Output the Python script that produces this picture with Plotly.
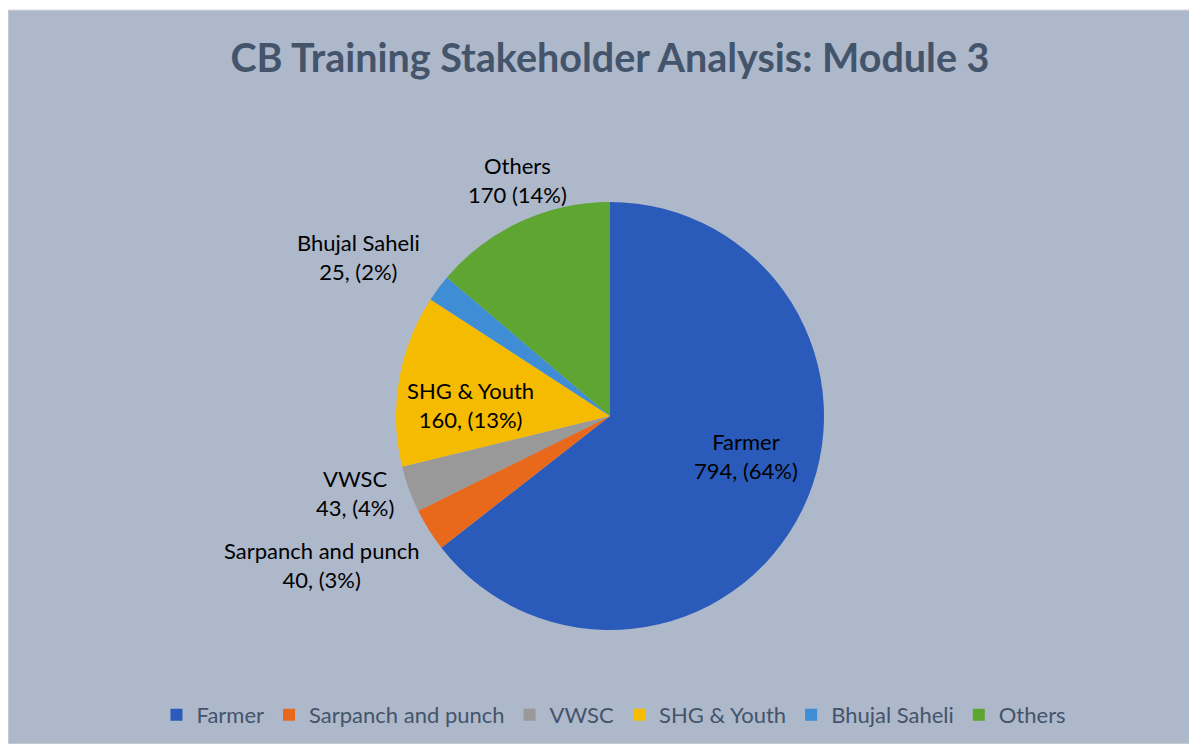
import plotly.graph_objects as go

categories = ["Farmer", "Sarpanch and punch", "VWSC", "SHG & Youth", "Bhujal Saheli", "Others"]
values = [794, 40, 43, 160, 25, 170]
label_texts = ["Farmer<br>794, (64%)", "Sarpanch and punch<br>40, (3%)", "VWSC<br>43, (4%)",
               "SHG & Youth<br>160, (13%)", "Bhujal Saheli<br>25, (2%)", "Others<br>170 (14%)"]
colors = ["#2A5BBB", "#E8691C", "#999999", "#F5BB00", "#3F8DD5", "#5EA531"]

OFF = 8  # page body margin
W, H = 1197 - OFF, 744 - OFF


def px(x):
    return (x - OFF) / W


def py(y):
    return 1 - (y - OFF) / H


cx, cy, r = 610, 416, 214

fig = go.Figure(go.Pie(
    labels=categories, values=values, sort=False, direction="clockwise", rotation=0,
    marker=dict(colors=colors, line=dict(width=0)),
    textinfo="none", hoverinfo="label+value+percent",
    domain=dict(x=[px(cx - r), px(cx + r)], y=[py(cy + r), py(cy - r)]),
))

label_pos = [(746, 456), (322, 565), (355, 493), (471, 405), (358, 257), (517, 180)]
font = "Lato, Open Sans, sans-serif"
anns = []
for t, (x, y) in zip(label_texts, label_pos):
    anns.append(dict(text=t, x=px(x), y=py(y), xref="paper", yref="paper", showarrow=False,
                     xanchor="center", yanchor="middle",
                     font=dict(size=22, color="#000000", family=font), align="center"))

fig.update_layout(
    width=W, height=H, margin=dict(l=0, r=0, t=0, b=0),
    paper_bgcolor="white",
    shapes=[dict(type="rect", xref="paper", yref="paper", x0=px(8), x1=1, y0=0, y1=py(10),
                 fillcolor="#ADB8CA", line=dict(color="#D9D9D9", width=1), layer="below")],
    title=dict(text="<b>CB Training Stakeholder Analysis: Module 3</b>", x=px(610), xanchor="center",
               y=py(58), yanchor="middle", font=dict(size=39.5, color="#44546A", family=font)),
    legend=dict(orientation="h", x=px(614), xanchor="center", y=py(715), yanchor="middle",
                font=dict(size=22, color="#44546A", family=font), traceorder="normal",
                bgcolor="rgba(0,0,0,0)", itemwidth=30),
    annotations=anns,
)
fig.write_html("out.html")
